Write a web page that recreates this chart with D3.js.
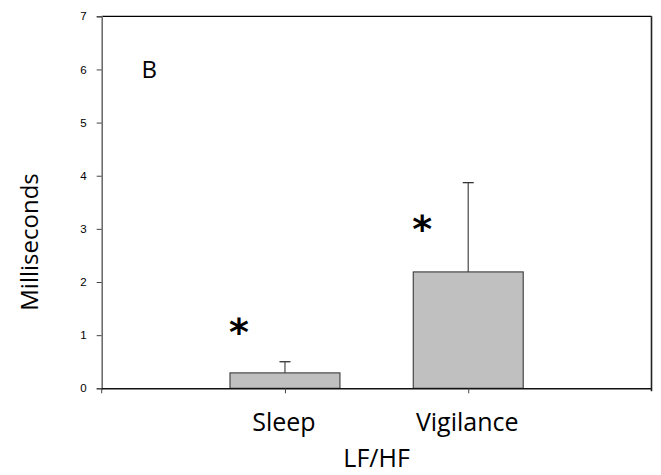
<!DOCTYPE html>
<html>
<head>
<meta charset="utf-8">
<script src="https://cdn.jsdelivr.net/npm/d3@7"></script>
<style>
  html, body { margin: 0; padding: 0; background: #fff; }
  svg { display: block; }
</style>
</head>
<body>
<script>
// LF/HF ratio by condition, with upper error bars and significance marks
const categories = ["Sleep", "Vigilance"];
const means = [0.29, 2.19];
const upperErrors = [0.50, 3.87];
const starValues = [1.25, 3.19];
const yTicks = [0, 1, 2, 3, 4, 5, 6, 7];
const panelLabel = "B";
const xTitle = "LF/HF";
const yTitle = "Milliseconds";

const W = 661, H = 475;
const plotLeft = 101.7, plotRight = 651.5, plotTop = 16.3, plotBottom = 388.3;

const svg = d3.select("body").append("svg")
  .attr("width", W).attr("height", H);

// category positions on a linear scale: slots at 1 and 2 of 0..3
const x = d3.scaleLinear().domain([0, categories.length + 1]).range([plotLeft, plotRight]);
const slot = x(1) - x(0);
const barW = slot * 0.6;
const y = d3.scaleLinear().domain([0, 7]).range([plotBottom, plotTop]);

const sans = "Open Sans, sans-serif";

// frame: top and right edges
svg.append("line")
  .attr("x1", plotLeft).attr("x2", plotRight).attr("y1", y(7)).attr("y2", y(7))
  .attr("stroke", "#000").attr("stroke-width", 1.3);
svg.append("line")
  .attr("x1", plotRight).attr("x2", plotRight).attr("y1", y(7)).attr("y2", plotBottom + 3)
  .attr("stroke", "#222").attr("stroke-width", 1.6);

const data = categories.map((c, i) => ({ c, i, m: means[i], e: upperErrors[i], s: starValues[i] }));

// error bars (drawn under bars)
const eb = svg.append("g");
eb.selectAll("line.v").data(data).join("line")
  .attr("x1", d => x(d.i + 1)).attr("x2", d => x(d.i + 1))
  .attr("y1", d => y(d.m)).attr("y2", d => y(d.e))
  .attr("stroke", "#555").attr("stroke-width", 1.3);
eb.selectAll("line.cap").data(data).join("line")
  .attr("x1", d => x(d.i + 1) - 5.5).attr("x2", d => x(d.i + 1) + 5.5)
  .attr("y1", d => y(d.e)).attr("y2", d => y(d.e))
  .attr("stroke", "#333").attr("stroke-width", 1.3);

// bars
svg.append("g").selectAll("rect").data(data).join("rect")
  .attr("x", d => x(d.i + 1) - barW / 2)
  .attr("y", d => y(d.m))
  .attr("width", barW)
  .attr("height", d => y(0) - y(d.m))
  .attr("fill", "#c0c0c0")
  .attr("stroke", "#3a3a3a").attr("stroke-width", 1.1);

// significance asterisks
svg.append("g").selectAll("text").data(data).join("text")
  .attr("x", d => x(d.i + 1) - 46)
  .attr("y", d => y(d.s) + 23)
  .attr("text-anchor", "middle")
  .attr("font-family", "DejaVu Sans, sans-serif")
  .attr("font-weight", "bold")
  .attr("font-size", 38)
  .attr("fill", "#000")
  .text("*");

// y axis
const yAxis = svg.append("g")
  .attr("transform", `translate(${plotLeft},0)`)
  .call(d3.axisLeft(y).tickValues(yTicks).tickSize(5).tickPadding(10).tickFormat(d3.format("d")));
yAxis.select(".domain").attr("stroke", "#666").attr("stroke-width", 1.5);
yAxis.selectAll(".tick line").attr("stroke", "#444");
yAxis.selectAll(".tick text")
  .attr("font-family", "Liberation Sans, Arial, sans-serif")
  .attr("font-size", 11.5).attr("fill", "#000");

// x axis
const xAxis = svg.append("g")
  .attr("transform", `translate(0,${plotBottom})`)
  .call(d3.axisBottom(x).tickValues(categories.map((c, i) => i + 1)).tickSize(5).tickFormat(""));
xAxis.select(".domain").attr("stroke", "#111").attr("stroke-width", 1.4)
  .attr("d", `M${plotLeft},0.5H${plotRight}`);
xAxis.selectAll(".tick line").attr("stroke", "#444");
svg.append("line")
  .attr("x1", plotLeft).attr("x2", plotLeft).attr("y1", plotBottom).attr("y2", plotBottom + 5)
  .attr("stroke", "#444");

// category labels
svg.append("g").selectAll("text").data(data).join("text")
  .attr("x", d => x(d.i + 1) - 1)
  .attr("y", 431)
  .attr("text-anchor", "middle")
  .attr("font-family", sans).attr("font-size", 25).attr("fill", "#000")
  .text(d => d.c);

// axis titles
svg.append("text")
  .attr("x", (plotLeft + plotRight) / 2).attr("y", 467)
  .attr("text-anchor", "middle")
  .attr("font-family", sans).attr("font-size", 25).attr("fill", "#000")
  .text(xTitle);
svg.append("text")
  .attr("transform", `translate(37.5,${242}) rotate(-90)`)
  .attr("text-anchor", "middle")
  .attr("font-family", sans).attr("font-size", 24).attr("fill", "#000")
  .text(yTitle);

// panel letter
svg.append("text")
  .attr("x", 141.5).attr("y", 78)
  .attr("font-family", sans).attr("font-size", 24).attr("fill", "#000")
  .text(panelLabel);
</script>
</body>
</html>
